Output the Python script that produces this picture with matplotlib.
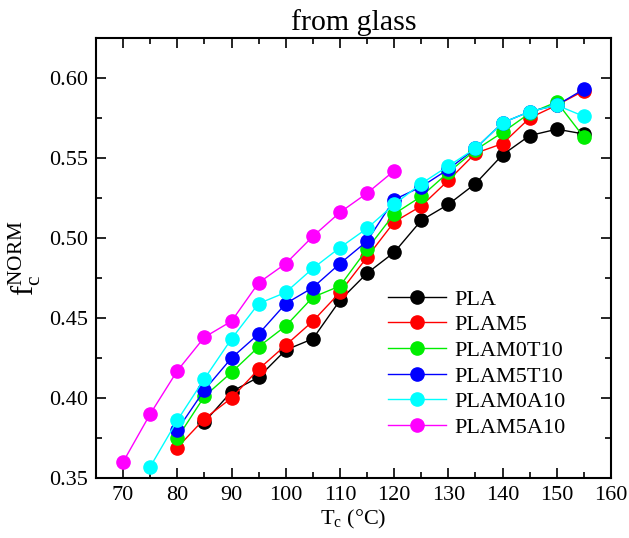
import matplotlib
matplotlib.use('Agg')
import matplotlib.pyplot as plt
from matplotlib.ticker import MultipleLocator

plt.rcParams['font.family'] = ['Liberation Serif', 'DejaVu Serif']
plt.rcParams['mathtext.fontset'] = 'custom'
plt.rcParams['mathtext.rm'] = 'Liberation Serif'
plt.rcParams['mathtext.it'] = 'Liberation Serif:italic'

# crystallization temperature (C) and normalized crystal fraction per sample
tc_pla = [85, 90, 95, 100, 105, 110, 115, 120, 125, 130, 135, 140, 145, 150, 155]
fc_pla = [0.385, 0.404, 0.413, 0.430, 0.437, 0.461, 0.478, 0.491, 0.511, 0.521,
          0.534, 0.552, 0.564, 0.568, 0.565]

tc_plam5 = [80, 85, 90, 95, 100, 105, 110, 115, 120, 125, 130, 135, 140, 145, 150, 155]
fc_plam5 = [0.369, 0.387, 0.400, 0.418, 0.433, 0.448, 0.466, 0.488, 0.510, 0.520,
            0.536, 0.553, 0.559, 0.575, 0.583, 0.592]

tc_plam0t10 = [80, 85, 90, 95, 100, 105, 110, 115, 120, 125, 130, 135, 140, 145, 150, 155]
fc_plam0t10 = [0.375, 0.401, 0.416, 0.432, 0.445, 0.463, 0.470, 0.493, 0.515, 0.526,
               0.541, 0.555, 0.566, 0.578, 0.585, 0.563]

tc_plam5t10 = [80, 85, 90, 95, 100, 105, 110, 115, 120, 125, 130, 135, 140, 145, 150, 155]
fc_plam5t10 = [0.380, 0.405, 0.425, 0.440, 0.459, 0.469, 0.484, 0.498, 0.524, 0.532,
               0.543, 0.556, 0.572, 0.579, 0.583, 0.593]

tc_plam0a10 = [75, 80, 85, 90, 95, 100, 105, 110, 115, 120, 125, 130, 135, 140, 145, 150, 155]
fc_plam0a10 = [0.357, 0.386, 0.412, 0.437, 0.459, 0.466, 0.481, 0.494, 0.506, 0.521,
               0.534, 0.545, 0.556, 0.572, 0.579, 0.583, 0.576]

tc_plam5a10 = [70, 75, 80, 85, 90, 95, 100, 105, 110, 115, 120]
fc_plam5a10 = [0.360, 0.390, 0.417, 0.438, 0.448, 0.472, 0.484, 0.501, 0.516, 0.528, 0.542]

series = [
    ('PLA', tc_pla, fc_pla, 'black'),
    ('PLAM5', tc_plam5, fc_plam5, 'red'),
    ('PLAM0T10', tc_plam0t10, fc_plam0t10, '#00ee00'),
    ('PLAM5T10', tc_plam5t10, fc_plam5t10, 'blue'),
    ('PLAM0A10', tc_plam0a10, fc_plam0a10, 'cyan'),
    ('PLAM5A10', tc_plam5a10, fc_plam5a10, 'magenta'),
]

fig = plt.figure(figsize=(6.29, 5.38), dpi=100)
ax = fig.add_axes([0.1526, 0.1115, 0.8188, 0.8179])

for name, x, y, c in series:
    ax.plot(x, y, '-o', color=c, mfc=c, mec=c, lw=1.0, ms=9.5, label=name)

ax.set_xlim(65, 160)
ax.set_ylim(0.35, 0.625)
ax.xaxis.set_major_locator(MultipleLocator(10))
ax.xaxis.set_minor_locator(MultipleLocator(5))
ax.yaxis.set_major_locator(MultipleLocator(0.05))
ax.yaxis.set_minor_locator(MultipleLocator(0.025))
ax.yaxis.set_major_formatter(plt.FormatStrFormatter('%.2f'))
ax.tick_params(which='both', direction='in', top=True, right=True, labelsize=16, width=1.2)
ax.tick_params(which='major', length=7, pad=6)
ax.tick_params(which='minor', length=4)
for s in ax.spines.values():
    s.set_linewidth(1.5)

ax.set_xlabel(r'T$_\mathregular{c}$ (°C)', fontsize=16, labelpad=2)
ax.set_ylabel(r'$\mathregular{f_c^{NORM}}$', fontsize=22, labelpad=4)
ax.set_title('from glass', fontsize=21.5, pad=6)

ax.legend(loc='upper left', bbox_to_anchor=(0.537, 0.465), frameon=False, fontsize=16,
          handlelength=2.6, handletextpad=0.4, labelspacing=0.23, borderpad=0.2)

fig.savefig('out.png', dpi=100)
